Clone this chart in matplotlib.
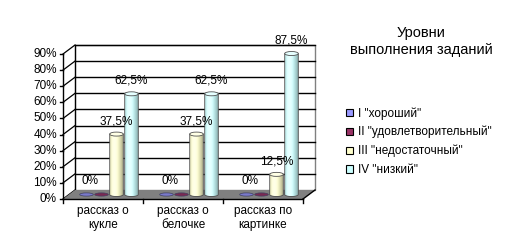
import numpy as np
import matplotlib
matplotlib.use("Agg")
import matplotlib.pyplot as plt
from matplotlib.patches import Polygon, Ellipse, Patch
from matplotlib.colors import to_rgb

plt.rcParams['font.family'] = ['Liberation Sans', 'DejaVu Sans']

# ---------------- данные ----------------
categories = ["рассказ о\nкукле", "рассказ о\nбелочке", "рассказ по\nкартинке"]
series_names = ['I "хороший"', 'II "удовлетворительный"', 'III "недостаточный"', 'IV "низкий"']
level_1 = [0, 0, 0]
level_2 = [0, 0, 0]
level_3 = [37.5, 37.5, 12.5]
level_4 = [62.5, 62.5, 87.5]
series_colors = ["#9999FF", "#993366", "#FFFFCC", "#CCFFFF"]
show_labels = [True, False, True, True]
y_ticks = list(range(0, 100, 10))
title_text = "Уровни\nвыполнения заданий"

series = [level_1, level_2, level_3, level_4]

# ---------------- геометрия ----------------
W, H = 505, 246
fig = plt.figure(figsize=(W / 100, H / 100), dpi=100)
ax = fig.add_axes([63 / W, 47 / H, 240 / W, 145 / H])
ax.set_xlim(0, 3)
ax.set_ylim(0, 90)
ax.axis('off')

px_x = 240 / 3      # пикселей на категорию
px_y = 145 / 90     # пикселей на 1%
DX = 12 / px_x      # глубина по x
DY = 9 / px_y       # глубина по y
FS = 8.5


def proj(x, y, d):
    return (x + d * DX, y + d * DY)


def shade(color, t):
    c = np.array(to_rgb(color))
    light = 0.55 * np.exp(-((t - 0.32) / 0.22) ** 2)
    dark = 0.38 * np.clip((t - 0.5) / 0.5, 0, 1) ** 1.3 + 0.12 * np.clip((0.15 - t) / 0.15, 0, 1)
    out = c + (1 - c) * light
    return np.clip(out * (1 - dark), 0, 1)


# стены и пол
back = Polygon([proj(0, 0, 1), proj(3, 0, 1), proj(3, 90, 1), proj(0, 90, 1)],
               closed=True, facecolor='white', edgecolor='#808080', lw=1, zorder=1, clip_on=False)
ax.add_patch(back)
for v in y_ticks[1:]:
    x0, y0 = proj(0, v, 1)
    x1, y1 = proj(3, v, 1)
    ax.plot([x0, x1], [y0, y1], color='black', lw=1, zorder=2, clip_on=False)
for v in y_ticks:
    x0, y0 = proj(0, v, 0)
    x1, y1 = proj(0, v, 1)
    ax.plot([x0, x1], [y0, y1], color='black', lw=0.9, zorder=2, clip_on=False)
bx0, by0 = proj(0, 0, 1)
bx1, by1 = proj(0, 90, 1)
ax.plot([bx0, bx1], [by0, by1], color='black', lw=0.9, zorder=2, clip_on=False)

floor = Polygon([proj(0, 0, 0), proj(3, 0, 0), proj(3, 0, 1), proj(0, 0, 1)],
                closed=True, facecolor='#808080', edgecolor='none', zorder=3, clip_on=False)
ax.add_patch(floor)
fx0, fy0 = proj(3, 0, 0)
fx1, fy1 = proj(3, 0, 1)
ax.plot([fx0, fx1], [fy0, fy1], color='black', lw=1, zorder=3, clip_on=False)

# оси
ax.plot([0, 0], [0, 90], color='black', lw=1, zorder=4, clip_on=False)
ax.plot([0, 3], [0, 0], color='black', lw=1, zorder=4, clip_on=False)
for v in y_ticks:
    ax.plot([-3 / px_x, 0], [v, v], color='black', lw=1, zorder=4, clip_on=False)
    ax.text(-6 / px_x, v, f"{v}%", ha='right', va='center', fontsize=FS, clip_on=False)
for i in range(4):
    ax.plot([i, i], [0, -4 / px_y], color='black', lw=1, zorder=4, clip_on=False)
for i, cat in enumerate(categories):
    ax.text(i + 0.5, -6 / px_y, cat, ha='center', va='top', fontsize=FS,
            linespacing=1.2, clip_on=False)

# цилиндры
bar_w = 0.17
step = 0.1875
eh = 4 / px_y
t = np.linspace(0, 1, 64)
arc = np.linspace(np.pi, 2 * np.pi, 30)

for i in range(len(categories)):
    for j, vals in enumerate(series):
        v = vals[i]
        cx, base = proj(i + 0.5 + (j - 1.5) * step, 0, 0.5)
        top = base + v
        x0, x1 = cx - bar_w / 2, cx + bar_w / 2
        z = 10 + i * 4 + j
        col = series_colors[j]
        if v > 0:
            pts = [(x0, top)]
            pts += [(cx + bar_w / 2 * np.cos(a), base + eh / 2 * np.sin(a)) for a in arc]
            pts += [(x1, top)]
            body = Polygon(pts, closed=True, facecolor='none', edgecolor='#505050',
                           lw=0.6, zorder=z + 0.2, clip_on=False)
            ax.add_patch(body)
            grad = shade(col, t[:, None]).reshape(1, -1, 3)
            im = ax.imshow(grad, extent=(x0, x1, base - eh / 2, top), aspect='auto',
                           interpolation='bilinear', zorder=z + 0.1)
            im.set_clip_path(body)
            top_col = shade(col, np.array(0.4))
            ax.add_patch(Ellipse((cx, top), bar_w, eh, facecolor=top_col,
                                 edgecolor='#505050', lw=0.6, zorder=z + 0.3, clip_on=False))
        else:
            # нулевые значения - плоский диск на полу
            flat = np.array(to_rgb(col)) * 0.8
            ax.add_patch(Ellipse((cx, top), bar_w, eh * 0.8, facecolor=flat,
                                 edgecolor='#404060', lw=0.5, zorder=z + 0.3, clip_on=False))
        if show_labels[j]:
            lab = f"{v:g}%".replace('.', ',')
            ax.annotate(lab, xy=(cx, top), xytext=(4 if v == 0 else 0, 13),
                        textcoords='offset pixels', ha='center', va='center',
                        fontsize=FS, zorder=30, annotation_clip=False)

ax.set_xlim(0, 3)
ax.set_ylim(0, 90)

# легенда и заголовок
handles = [Patch(facecolor=c, edgecolor='black', lw=0.8) for c in series_colors]
fig.legend(handles, series_names, loc='upper left', bbox_to_anchor=(346 / W, 1 - 107 / H),
           frameon=False, fontsize=FS, handlelength=0.6, handleheight=0.6,
           handletextpad=0.4, labelspacing=0.55, borderpad=0, borderaxespad=0)
fig.text(421 / W, 1 - 41.5 / H, title_text, ha='center', va='center',
         fontsize=10.5, linespacing=1.2)

fig.savefig('out.png', dpi=100, facecolor='white')
